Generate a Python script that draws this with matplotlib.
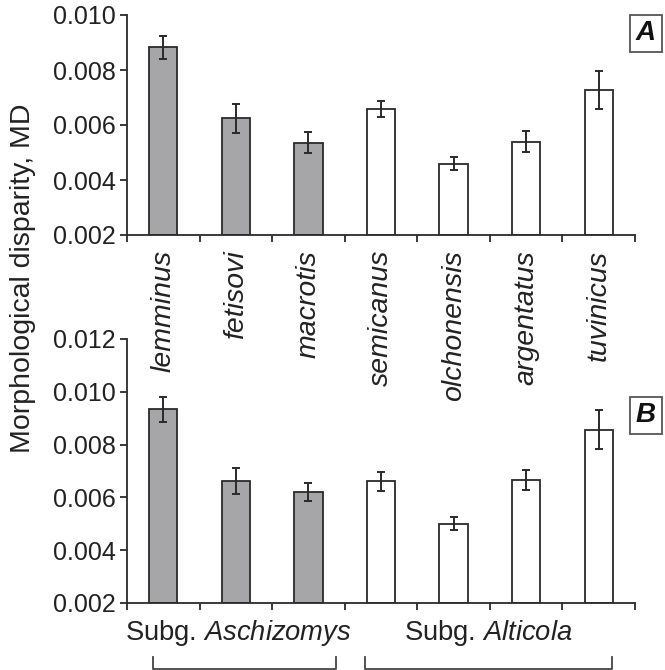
import matplotlib
matplotlib.use("Agg")
import matplotlib.pyplot as plt
import numpy as np
from matplotlib.lines import Line2D

plt.rcParams['font.family'] = ['Liberation Sans', 'DejaVu Sans']
plt.rcParams['mathtext.fontset'] = 'custom'
plt.rcParams['mathtext.rm'] = 'Liberation Sans'
plt.rcParams['mathtext.it'] = 'Liberation Sans:italic'

species = ["lemminus", "fetisovi", "macrotis", "semicanus", "olchonensis", "argentatus", "tuvinicus"]
subgenus = ["Aschizomys", "Aschizomys", "Aschizomys", "Alticola", "Alticola", "Alticola", "Alticola"]
md_A = [0.00882, 0.00624, 0.00536, 0.00658, 0.00460, 0.00540, 0.00727]
err_A = [0.00043, 0.00053, 0.00038, 0.00028, 0.00022, 0.00037, 0.00068]
md_B = [0.00934, 0.00662, 0.00620, 0.00661, 0.00501, 0.00666, 0.00856]
err_B = [0.00047, 0.00050, 0.00033, 0.00035, 0.00024, 0.00037, 0.00074]
yticks_A = [0.002, 0.004, 0.006, 0.008, 0.010]
yticks_B = [0.002, 0.004, 0.006, 0.008, 0.010, 0.012]

W, H = 665, 670
fig = plt.figure(figsize=(W / 100, H / 100), dpi=100)

dark = "#2a2a2a"
gray_fill = "#a6a6a8"
colors = [gray_fill if s == "Aschizomys" else "white" for s in subgenus]

def fx(px):
    return px / W

def fy(py):
    return 1 - py / H

axA = fig.add_axes([fx(127), fy(235), fx(635) - fx(127), fy(15) - fy(235)])
axB = fig.add_axes([fx(127), fy(603), fx(635) - fx(127), fy(339) - fy(603)])

x = np.arange(len(species))
for ax, vals, errs, yt in [(axA, md_A, err_A, yticks_A), (axB, md_B, err_B, yticks_B)]:
    ax.bar(x, np.array(vals) - yt[0], bottom=yt[0], width=0.39, color=colors,
           edgecolor=dark, linewidth=1.3, zorder=2)
    ax.errorbar(x, vals, yerr=errs, fmt='none', ecolor=dark, elinewidth=1.4,
                capsize=3.2, capthick=1.4, zorder=3)
    ax.set_xlim(-0.5, len(species) - 0.5)
    ax.set_ylim(yt[0], yt[-1])
    ax.set_yticks(yt)
    ax.set_yticklabels([f"{v:.3f}" for v in yt], fontsize=18, color="#222222")
    ax.set_xticks(np.arange(len(species) + 1) - 0.5)
    ax.set_xticklabels([])
    for s in ["top", "right"]:
        ax.spines[s].set_visible(False)
    for s in ["left", "bottom"]:
        ax.spines[s].set_color(dark)
        ax.spines[s].set_linewidth(1.3)
    ax.tick_params(axis='both', direction='out', length=5, width=1.3, color=dark, pad=3)

# category labels between panels
for i, name in enumerate(species):
    xd = axA.transData.transform((i, 0))[0]
    fxv = fig.transFigure.inverted().transform((xd, 0))[0]
    fig.text(fxv, fy(250), name, rotation=90, ha='center', va='top',
             fontsize=20.5, style='italic', color="#222222")

# panel letters
for letter, ytop, ybot in [("A", 14, 53), ("B", 396, 435)]:
    fig.text(fx(646), (fy(ytop) + fy(ybot)) / 2, letter, ha='center', va='center',
             fontsize=20, fontweight='bold', style='italic', color="#111111",
             bbox=dict(boxstyle='square,pad=0.2', facecolor='white', edgecolor="#555555", linewidth=1.3))

fig.text(fx(23), fy(278), "Morphological disparity, MD", rotation=90, ha='center', va='center',
         fontsize=20.5, color="#222222")

# subgenus labels
fig.text(fx(238), fy(633), "Subg. $\\mathit{Aschizomys}$", ha='center', va='center',
         fontsize=19.7, color="#222222")
fig.text(fx(488), fy(633), "Subg. $\\mathit{Alticola}$", ha='center', va='center',
         fontsize=19.7, color="#222222")

# brackets
for x0, x1 in [(153, 336), (365, 612)]:
    line = Line2D([fx(x0), fx(x0), fx(x1), fx(x1)], [fy(657), fy(668.5), fy(668.5), fy(657)],
                  transform=fig.transFigure, color="#444444", linewidth=1.3)
    fig.add_artist(line)

fig.savefig("out.png", dpi=100)
